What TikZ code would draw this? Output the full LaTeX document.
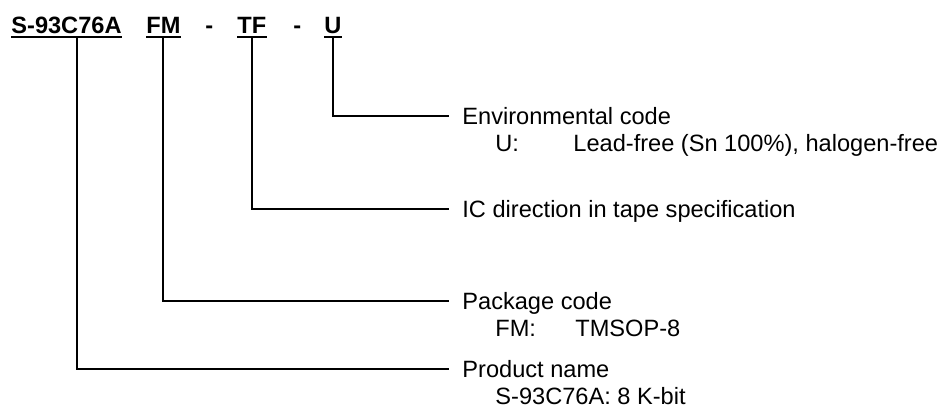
\documentclass[tikz,border=0pt]{standalone}
\usepackage{fontspec}
\setmainfont{Liberation Sans}
\usetikzlibrary{positioning}

\begin{document}
\begin{tikzpicture}[x=0.5pt, y=-0.5pt,
			 codigo/.style={font=\bfseries\fontsize{11.8}{14}\selectfont, inner sep=0pt, text depth=2pt, anchor=base west},
			 titulo/.style={font=\fontsize{11.8}{14}\selectfont, inner xsep=6.5pt, inner ysep=0pt, text height=8.4pt, text depth=0pt, anchor=west},
			 detalle/.style={font=\fontsize{11.8}{14}\selectfont, inner sep=0pt, anchor=base west},
			 conector/.style={line width=1pt}
  		]
	\useasboundingbox (0,0) rectangle (945,414);

	%Partes del codigo

		\node[codigo] (pn) at (11,33) {S-93C76A};
		\node[codigo] (fm) at (146,33) {FM};
		\node[codigo] (g1) at (205,33) {-};
		\node[codigo] (tf) at (237,33) {TF};
		\node[codigo] (g2) at (293,33) {-};
		\node[codigo] (env) at (324,33) {U};
	%Subrayados
		\draw[conector] (pn.south west) -- (pn.south east);
		\draw[conector] (fm.south west) -- (fm.south east);
		\draw[conector] (tf.south west) -- (tf.south east);
		\draw[conector] (env.south west) -- (env.south east);
	%Descripciones
		\node[titulo] (envT) at (449,116) {Environmental code};
		\node[detalle] (envD) at ([xshift=23pt, yshift=-13.5pt]envT.base west) {\makebox[39pt][l]{U:}Lead-free (Sn 100\%), halogen-free};
		\node[titulo] (tfT) at (449,209) {IC direction in tape specification};
		\node[titulo] (fmT) at (449,301) {Package code};
		\node[detalle] (fmD) at ([xshift=23pt, yshift=-13.5pt]fmT.base west) {\makebox[40pt][l]{FM:}TMSOP-8};
		\node[titulo] (pnT) at (449,369) {Product name};
		\node[detalle] (pnD) at ([xshift=23pt, yshift=-13.5pt]pnT.base west) {S-93C76A: 8 K-bit};
	%Lineas
		\draw[conector] (env.south) |- (envT.west);
		\draw[conector] (tf.south) |- (tfT.west);
		\draw[conector] (fm.south) |- (fmT.west);
		\draw[conector] ([xshift=5.25pt]pn.south) |- (pnT.west);
	\end{tikzpicture}
\end{document}
